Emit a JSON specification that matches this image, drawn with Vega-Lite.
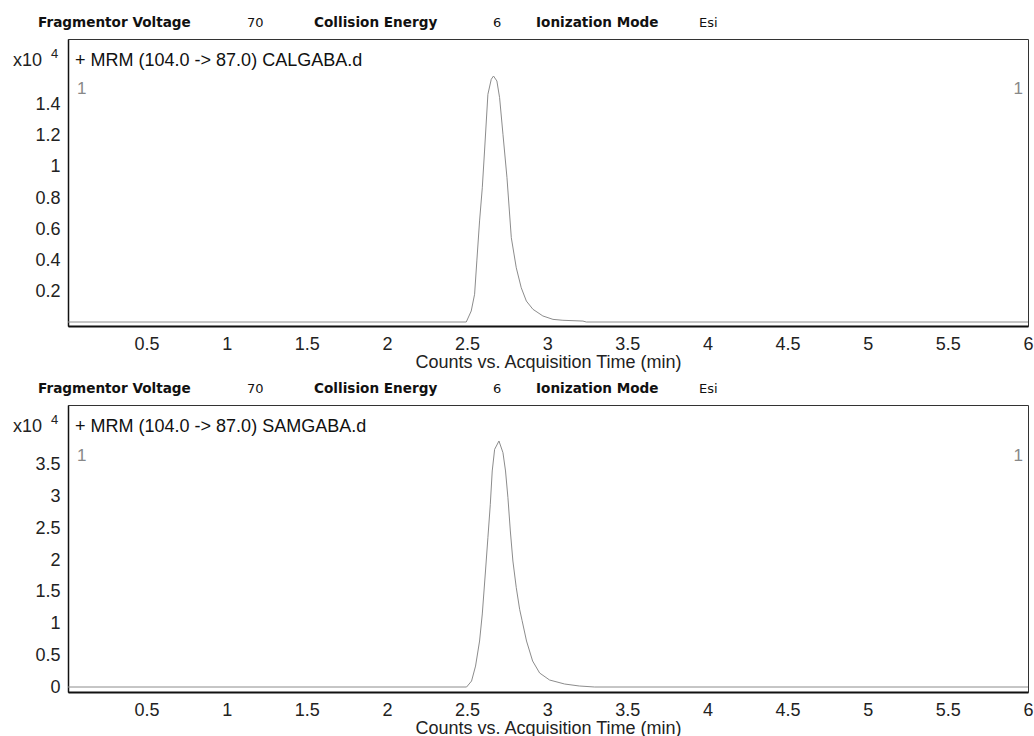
{
  "$schema": "https://vega.github.io/schema/vega-lite/v6.json",
  "background": "white",
  "padding": {"left": 12, "top": 15, "right": 0, "bottom": 0},
  "spacing": 79,
  "bounds": "flush",
  "config": {
    "view": {"stroke": "#333", "strokeWidth": 1},
    "font": "Liberation Sans",
    "axis": {
      "labelFont": "Liberation Sans",
      "labelFontSize": 18,
      "labelColor": "#222",
      "ticks": false,
      "grid": false,
      "domainColor": "#111",
      "labelOverlap": false,
      "labelFlush": false,
      "titleFont": "Liberation Sans",
      "titleFontSize": 18,
      "titleFontWeight": "normal",
      "titleColor": "#222"
    },
    "axisX": {"labelPadding": 9, "titlePadding": 0, "domainWidth": 2},
    "axisY": {"labelPadding": 8, "domainWidth": 1.5},
    "text": {"font": "Liberation Sans"}
  },
  "datasets": {
    "one": [{}],
    "cal": [
      {"time": 0.01, "counts": 0},
      {"time": 2.495, "counts": 0},
      {"time": 2.526, "counts": 710},
      {"time": 2.547, "counts": 1790},
      {"time": 2.561, "counts": 3940},
      {"time": 2.578, "counts": 6520},
      {"time": 2.595, "counts": 8660},
      {"time": 2.609, "counts": 11030},
      {"time": 2.630, "counts": 14690},
      {"time": 2.651, "counts": 15660},
      {"time": 2.665, "counts": 15870},
      {"time": 2.686, "counts": 15550},
      {"time": 2.703, "counts": 14470},
      {"time": 2.724, "counts": 12110},
      {"time": 2.749, "counts": 9310},
      {"time": 2.776, "counts": 5440},
      {"time": 2.807, "counts": 3500},
      {"time": 2.838, "counts": 2210},
      {"time": 2.870, "counts": 1350},
      {"time": 2.911, "counts": 820},
      {"time": 2.973, "counts": 390},
      {"time": 3.036, "counts": 170},
      {"time": 3.098, "counts": 110},
      {"time": 3.223, "counts": 60},
      {"time": 3.244, "counts": 0},
      {"time": 6.0, "counts": 0}
    ],
    "sam": [
      {"time": 0.01, "counts": 0},
      {"time": 2.497, "counts": 0},
      {"time": 2.528, "counts": 940},
      {"time": 2.553, "counts": 3300},
      {"time": 2.578, "counts": 7240},
      {"time": 2.595, "counts": 11500},
      {"time": 2.615, "counts": 18270},
      {"time": 2.630, "counts": 23510},
      {"time": 2.645, "counts": 28770},
      {"time": 2.657, "counts": 34020},
      {"time": 2.672, "counts": 37430},
      {"time": 2.699, "counts": 38740},
      {"time": 2.724, "counts": 36900},
      {"time": 2.740, "counts": 34020},
      {"time": 2.755, "counts": 29810},
      {"time": 2.770, "counts": 24570},
      {"time": 2.786, "counts": 19840},
      {"time": 2.807, "counts": 15640},
      {"time": 2.828, "counts": 12240},
      {"time": 2.843, "counts": 10500},
      {"time": 2.871, "counts": 7240},
      {"time": 2.909, "counts": 4090},
      {"time": 2.953, "counts": 2200},
      {"time": 3.015, "counts": 1100},
      {"time": 3.109, "counts": 470},
      {"time": 3.200, "counts": 160},
      {"time": 3.296, "counts": 0},
      {"time": 6.0, "counts": 0}
    ]
  },
  "vconcat": [
    {
      "width": 960,
      "height": 287,
      "layer": [
        {
          "data": {"name": "cal"},
          "mark": {"type": "line", "color": "#8c8c8c", "strokeWidth": 1, "clip": true},
          "encoding": {
            "x": {"field": "time", "type": "quantitative",
              "scale": {"domain": [0.01, 6.0], "nice": false, "zero": false},
              "axis": {"title": "Counts vs. Acquisition Time (min)", "values": [0.5, 1, 1.5, 2, 2.5, 3, 3.5, 4, 4.5, 5, 5.5, 6], "labelExpr": "format(datum.value, '~g')"}},
            "y": {"field": "counts", "type": "quantitative",
              "scale": {"domain": [-258, 18258], "nice": false, "zero": false},
              "axis": {"title": null, "values": [2000, 4000, 6000, 8000, 10000, 12000, 14000], "labelExpr": "format(datum.value / 10000, '.1~f')"}}
          }
        },
        {"data": {"name": "one"}, "mark": {"type": "text", "align": "right", "baseline": "middle", "fontSize": 18, "color": "#222"},
         "encoding": {"x": {"datum": -0.152, "type": "quantitative"}, "y": {"datum": 16839, "type": "quantitative"}, "text": {"value": "x10"}}},
        {"data": {"name": "one"}, "mark": {"type": "text", "align": "left", "baseline": "middle", "fontSize": 13, "color": "#222"},
         "encoding": {"x": {"datum": -0.096, "type": "quantitative"}, "y": {"datum": 17290, "type": "quantitative"}, "text": {"value": "4"}}},
        {"data": {"name": "one"}, "mark": {"type": "text", "align": "left", "baseline": "middle", "fontSize": 18, "color": "#111"},
         "encoding": {"x": {"datum": 0.054, "type": "quantitative"}, "y": {"datum": 16839, "type": "quantitative"}, "text": {"value": "+ MRM (104.0 -> 87.0) CALGABA.d"}}},
        {"data": {"name": "one"}, "mark": {"type": "text", "align": "left", "baseline": "middle", "fontSize": 17, "color": "#888"},
         "encoding": {"x": {"datum": 0.066, "type": "quantitative"}, "y": {"datum": 15000, "type": "quantitative"}, "text": {"value": "1"}}},
        {"data": {"name": "one"}, "mark": {"type": "text", "align": "right", "baseline": "middle", "fontSize": 17, "color": "#888"},
         "encoding": {"x": {"datum": 5.969, "type": "quantitative"}, "y": {"datum": 15000, "type": "quantitative"}, "text": {"value": "1"}}},
        {"data": {"name": "one"}, "mark": {"type": "text", "align": "left", "baseline": "middle", "fontSize": 13.6, "font": "DejaVu Sans", "fontWeight": "bold", "color": "#111"},
         "encoding": {"x": {"datum": -0.177, "type": "quantitative"}, "y": {"datum": 19290, "type": "quantitative"}, "text": {"value": "Fragmentor Voltage"}}},
        {"data": {"name": "one"}, "mark": {"type": "text", "align": "left", "baseline": "middle", "fontSize": 13, "font": "DejaVu Sans", "color": "#111"},
         "encoding": {"x": {"datum": 1.127, "type": "quantitative"}, "y": {"datum": 19290, "type": "quantitative"}, "text": {"value": "70"}}},
        {"data": {"name": "one"}, "mark": {"type": "text", "align": "left", "baseline": "middle", "fontSize": 13.6, "font": "DejaVu Sans", "fontWeight": "bold", "color": "#111"},
         "encoding": {"x": {"datum": 1.545, "type": "quantitative"}, "y": {"datum": 19290, "type": "quantitative"}, "text": {"value": "Collision Energy"}}},
        {"data": {"name": "one"}, "mark": {"type": "text", "align": "left", "baseline": "middle", "fontSize": 13, "font": "DejaVu Sans", "color": "#111"},
         "encoding": {"x": {"datum": 2.662, "type": "quantitative"}, "y": {"datum": 19290, "type": "quantitative"}, "text": {"value": "6"}}},
        {"data": {"name": "one"}, "mark": {"type": "text", "align": "left", "baseline": "middle", "fontSize": 13.6, "font": "DejaVu Sans", "fontWeight": "bold", "color": "#111"},
         "encoding": {"x": {"datum": 2.93, "type": "quantitative"}, "y": {"datum": 19290, "type": "quantitative"}, "text": {"value": "Ionization Mode"}}},
        {"data": {"name": "one"}, "mark": {"type": "text", "align": "left", "baseline": "middle", "fontSize": 13, "font": "DejaVu Sans", "color": "#111"},
         "encoding": {"x": {"datum": 3.947, "type": "quantitative"}, "y": {"datum": 19290, "type": "quantitative"}, "text": {"value": "Esi"}}}
      ]
    },
    {
      "width": 960,
      "height": 287,
      "layer": [
        {
          "data": {"name": "sam"},
          "mark": {"type": "line", "color": "#8c8c8c", "strokeWidth": 1, "clip": true},
          "encoding": {
            "x": {"field": "time", "type": "quantitative",
              "scale": {"domain": [0.01, 6.0], "nice": false, "zero": false},
              "axis": {"title": "Counts vs. Acquisition Time (min)", "values": [0.5, 1, 1.5, 2, 2.5, 3, 3.5, 4, 4.5, 5, 5.5, 6], "labelExpr": "format(datum.value, '~g')"}},
            "y": {"field": "counts", "type": "quantitative",
              "scale": {"domain": [-787, 44409], "nice": false, "zero": false},
              "axis": {"title": null, "values": [0, 5000, 10000, 15000, 20000, 25000, 30000, 35000], "labelExpr": "format(datum.value / 10000, '.1~f')"}}
          }
        },
        {"data": {"name": "one"}, "mark": {"type": "text", "align": "right", "baseline": "middle", "fontSize": 18, "color": "#222"},
         "encoding": {"x": {"datum": -0.152, "type": "quantitative"}, "y": {"datum": 40945, "type": "quantitative"}, "text": {"value": "x10"}}},
        {"data": {"name": "one"}, "mark": {"type": "text", "align": "left", "baseline": "middle", "fontSize": 13, "color": "#222"},
         "encoding": {"x": {"datum": -0.096, "type": "quantitative"}, "y": {"datum": 42047, "type": "quantitative"}, "text": {"value": "4"}}},
        {"data": {"name": "one"}, "mark": {"type": "text", "align": "left", "baseline": "middle", "fontSize": 18, "color": "#111"},
         "encoding": {"x": {"datum": 0.054, "type": "quantitative"}, "y": {"datum": 40945, "type": "quantitative"}, "text": {"value": "+ MRM (104.0 -> 87.0) SAMGABA.d"}}},
        {"data": {"name": "one"}, "mark": {"type": "text", "align": "left", "baseline": "middle", "fontSize": 17, "color": "#888"},
         "encoding": {"x": {"datum": 0.066, "type": "quantitative"}, "y": {"datum": 36450, "type": "quantitative"}, "text": {"value": "1"}}},
        {"data": {"name": "one"}, "mark": {"type": "text", "align": "right", "baseline": "middle", "fontSize": 17, "color": "#888"},
         "encoding": {"x": {"datum": 5.969, "type": "quantitative"}, "y": {"datum": 36450, "type": "quantitative"}, "text": {"value": "1"}}},
        {"data": {"name": "one"}, "mark": {"type": "text", "align": "left", "baseline": "middle", "fontSize": 13.6, "font": "DejaVu Sans", "fontWeight": "bold", "color": "#111"},
         "encoding": {"x": {"datum": -0.177, "type": "quantitative"}, "y": {"datum": 46929, "type": "quantitative"}, "text": {"value": "Fragmentor Voltage"}}},
        {"data": {"name": "one"}, "mark": {"type": "text", "align": "left", "baseline": "middle", "fontSize": 13, "font": "DejaVu Sans", "color": "#111"},
         "encoding": {"x": {"datum": 1.127, "type": "quantitative"}, "y": {"datum": 46929, "type": "quantitative"}, "text": {"value": "70"}}},
        {"data": {"name": "one"}, "mark": {"type": "text", "align": "left", "baseline": "middle", "fontSize": 13.6, "font": "DejaVu Sans", "fontWeight": "bold", "color": "#111"},
         "encoding": {"x": {"datum": 1.545, "type": "quantitative"}, "y": {"datum": 46929, "type": "quantitative"}, "text": {"value": "Collision Energy"}}},
        {"data": {"name": "one"}, "mark": {"type": "text", "align": "left", "baseline": "middle", "fontSize": 13, "font": "DejaVu Sans", "color": "#111"},
         "encoding": {"x": {"datum": 2.662, "type": "quantitative"}, "y": {"datum": 46929, "type": "quantitative"}, "text": {"value": "6"}}},
        {"data": {"name": "one"}, "mark": {"type": "text", "align": "left", "baseline": "middle", "fontSize": 13.6, "font": "DejaVu Sans", "fontWeight": "bold", "color": "#111"},
         "encoding": {"x": {"datum": 2.93, "type": "quantitative"}, "y": {"datum": 46929, "type": "quantitative"}, "text": {"value": "Ionization Mode"}}},
        {"data": {"name": "one"}, "mark": {"type": "text", "align": "left", "baseline": "middle", "fontSize": 13, "font": "DejaVu Sans", "color": "#111"},
         "encoding": {"x": {"datum": 3.947, "type": "quantitative"}, "y": {"datum": 46929, "type": "quantitative"}, "text": {"value": "Esi"}}}
      ]
    }
  ]
}
